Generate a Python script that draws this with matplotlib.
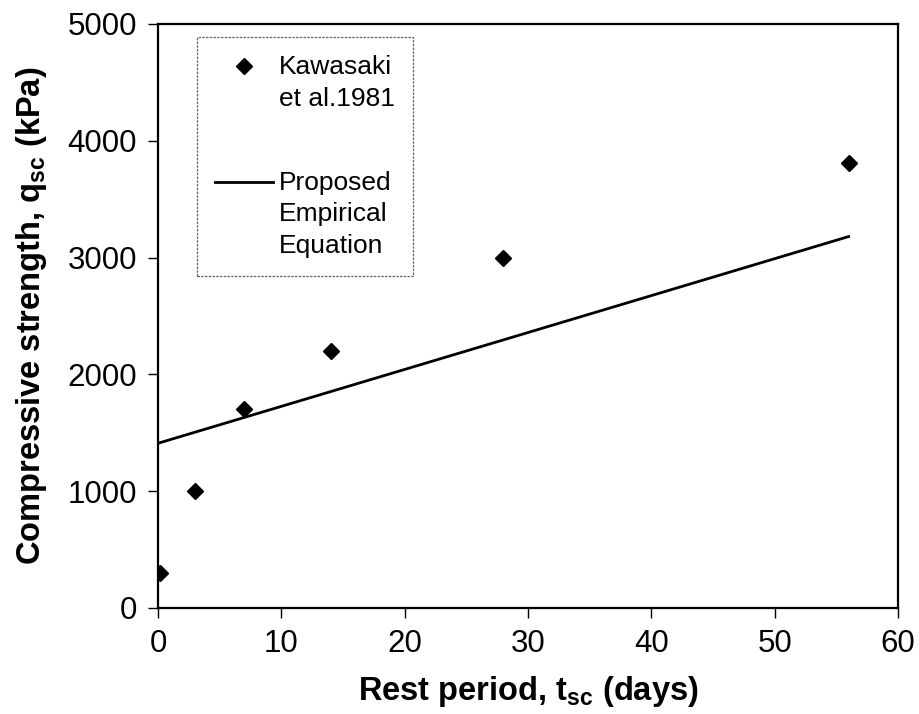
import matplotlib
matplotlib.use("Agg")
import matplotlib.pyplot as plt

plt.rcParams["font.family"] = ["Liberation Sans", "DejaVu Sans"]
plt.rcParams["mathtext.fontset"] = "custom"
plt.rcParams["mathtext.rm"] = "Liberation Sans"
plt.rcParams["mathtext.bf"] = "Liberation Sans:bold"
plt.rcParams["mathtext.it"] = "Liberation Sans:italic"

# Measured strength after rest period (Kawasaki et al. 1981)
rest_days = [0.2, 3, 7, 14, 28, 56]
strength_kpa = [300, 1000, 1700, 2200, 3000, 3810]

# Proposed empirical equation (straight line over the data range)
eq_days = [0, 56]
eq_strength = [1410, 3180]

x_ticks = [0, 10, 20, 30, 40, 50, 60]
y_ticks = [0, 1000, 2000, 3000, 4000, 5000]

fig = plt.figure(figsize=(9.2, 7.14), dpi=100)
ax = fig.add_axes([0.1717, 0.1485, 0.8043, 0.8179])

ax.plot(rest_days, strength_kpa, linestyle="none", marker="D", markersize=8,
        color="black", label="Kawasaki\net al.1981")
ax.plot(eq_days, eq_strength, color="black", linewidth=2,
        label="Proposed\nEmpirical\nEquation")

ax.set_xlim(0, 60)
ax.set_ylim(0, 5000)
ax.set_xticks(x_ticks)
ax.set_yticks(y_ticks)
ax.tick_params(axis="both", direction="out", length=7, width=1,
               labelsize=22.5, pad=8, colors="black")
for s in ax.spines.values():
    s.set_linewidth(1.6)
    s.set_color("black")

ax.set_xlabel(r"Rest period, $\mathbf{t}_{\mathbf{sc}}$ (days)",
              fontsize=23.5, fontweight="bold", labelpad=11)
ax.set_ylabel(r"Compressive strength, $\mathbf{q}_{\mathbf{sc}}$ (kPa)",
              fontsize=23.5, fontweight="bold", labelpad=13)

leg = ax.legend(loc="upper left", bbox_to_anchor=(0.0527, 0.978),
                borderaxespad=0, fontsize=19, numpoints=1,
                handlelength=2.2, handleheight=1.1, handletextpad=0.2,
                labelspacing=2.3, borderpad=0.7, fancybox=False,
                framealpha=1, edgecolor="#666666")
leg.get_frame().set_linewidth(0.9)
leg.get_frame().set_linestyle((0, (2, 1)))
for t in leg.get_texts():
    t.set_linespacing(1.38)
# put each legend handle beside the first line of its label
for col in leg._legend_handle_box.get_children():
    for item in col.get_children():
        item.align = "top"

fig.savefig("out.png", dpi=100)
